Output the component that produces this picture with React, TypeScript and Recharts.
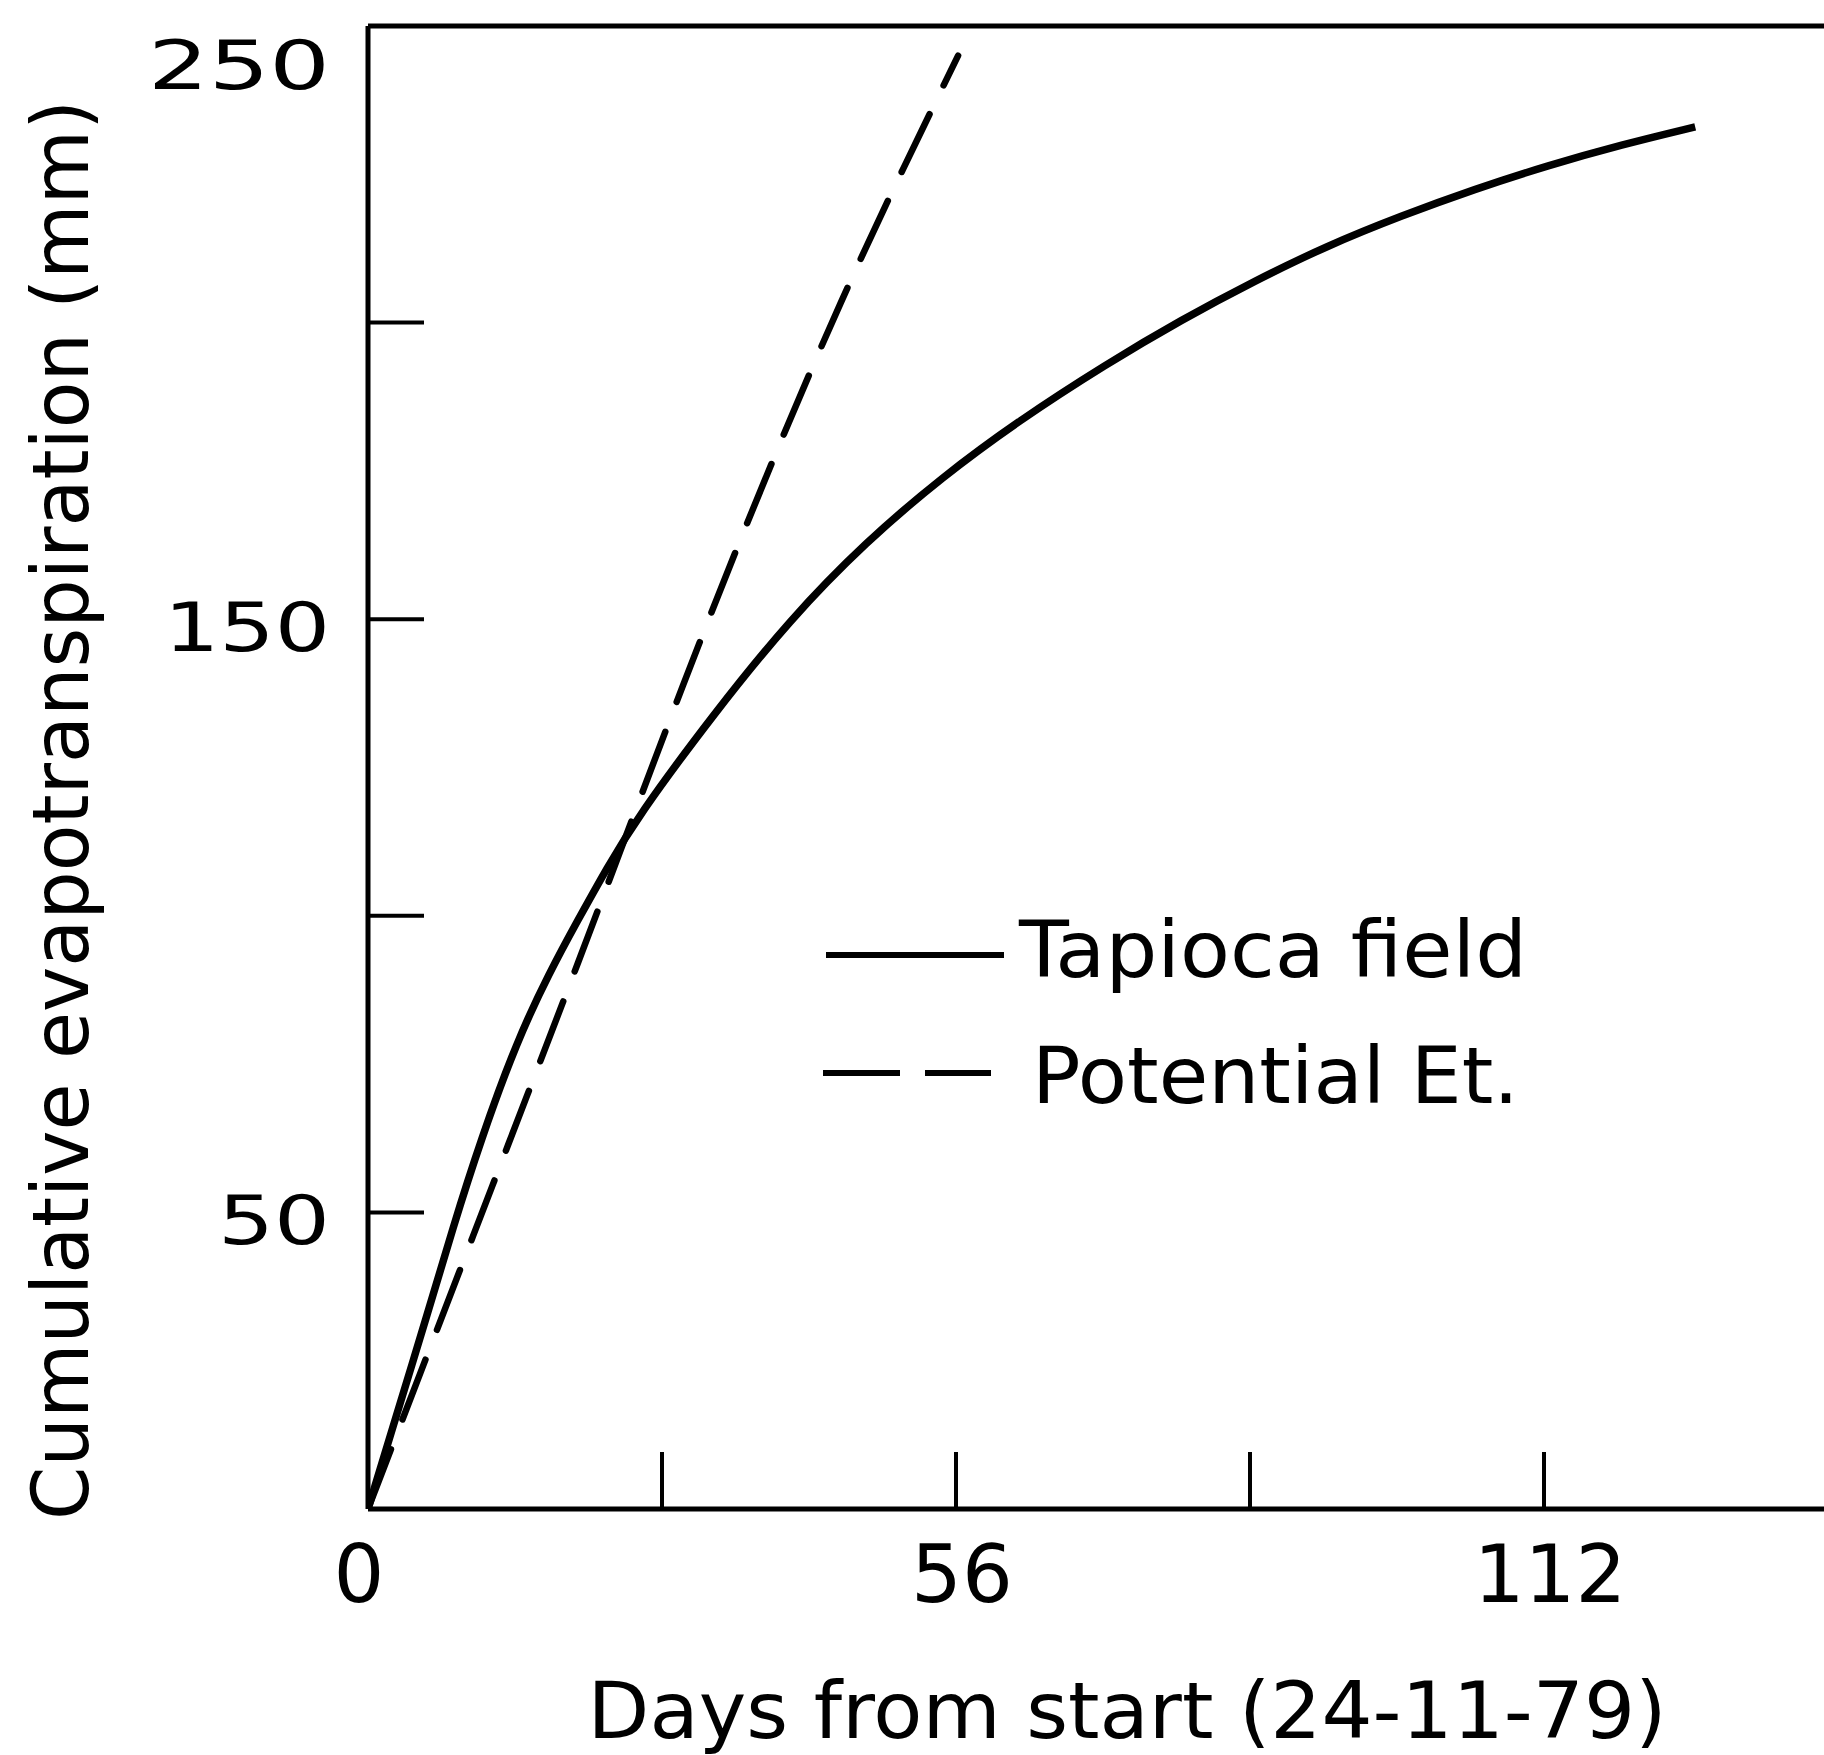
import {
  Label,
  Legend,
  Line,
  LineChart,
  ReferenceLine,
  XAxis,
  YAxis,
} from "recharts";

// cumulative ET, tapioca field (solid)
const tapiocaDays = [0, 2.4, 5.6, 8.1, 10.7, 14.2, 17.3, 19.9, 22.8, 25.6, 32.9, 40.2, 47.4, 54.7, 62, 70.3, 77.5, 84.4, 91.4, 98.4, 105.4, 112.4, 119.4, 126.4];
const tapiocaEt = [0, 14, 32.5, 47.5, 62, 79, 90.5, 99, 108.2, 116.5, 134, 150, 163, 174, 183.5, 193, 200.5, 207, 213, 218, 222.5, 226.5, 230, 233];

// potential ET (dashed)
const potentialDays = [0, 5, 10, 15, 20, 25, 30, 35, 40, 45, 50, 56.2];
const potentialEt = [0, 23, 46, 69, 92, 115.5, 139, 161.5, 183, 203.5, 222.5, 245];

const xTicks = [0, 28, 56, 84, 112, 140];
const xLabels = [0, 56, 112];
const yTicks = [0, 50, 100, 150, 200, 250];
const yLabels = [50, 150, 250];

const tapioca = tapiocaDays.map((d, i) => ({ day: d, et: tapiocaEt[i] }));
const potential = potentialDays.map((d, i) => ({ day: d, et: potentialEt[i] }));

const W = 1860;
const H = 1755;
const PLOT_LEFT = 368;
const PLOT_BOTTOM = 1509;
const FONT = "'DejaVu Sans', sans-serif";

const yLabelWidth: Record<number, number> = { 250: 182, 150: 166, 50: 112 };

function YTick({ y, payload }: any) {
  const v = payload.value;
  const showLine = v > 0 && v < 250;
  const showText = yLabels.includes(v);
  return (
    <g>
      {showLine && (
        <line x1={PLOT_LEFT} x2={PLOT_LEFT + 56} y1={y} y2={y} stroke="#000" strokeWidth={4} />
      )}
      {showText && (
        <text
          x={330}
          y={v === 250 ? y + 63 : y + 32}
          textAnchor="end"
          fontFamily={FONT}
          fontSize={68}
          textLength={yLabelWidth[v]}
          lengthAdjust="spacingAndGlyphs"
          fill="#000"
        >
          {v}
        </text>
      )}
    </g>
  );
}

function XTick({ x, payload }: any) {
  const v = payload.value;
  const showLine = v > 0 && v < 140;
  const showText = xLabels.includes(v);
  return (
    <g>
      {showLine && (
        <line x1={x} x2={x} y1={PLOT_BOTTOM} y2={PLOT_BOTTOM - 57} stroke="#000" strokeWidth={4} />
      )}
      {showText && (
        <text
          x={v === 0 ? x - 9 : x + 6}
          y={1602}
          textAnchor="middle"
          fontFamily={FONT}
          fontSize={80}
          fill="#000"
        >
          {v}
        </text>
      )}
    </g>
  );
}

function LegendBox() {
  return (
    <svg width={760} height={260} style={{ display: "block", overflow: "visible" }}>
      <line x1={26} x2={204} y1={75} y2={75} stroke="#000" strokeWidth={6} />
      <text x={219} y={97} fontFamily={FONT} fontSize={78} textLength={508} lengthAdjust="spacingAndGlyphs" fill="#000">
        Tapioca field
      </text>
      <line x1={23} x2={191} y1={193} y2={193} stroke="#000" strokeWidth={6} strokeDasharray="77 25" />
      <text x={232} y={223} fontFamily={FONT} fontSize={78} textLength={487} lengthAdjust="spacingAndGlyphs" fill="#000">
        Potential Et.
      </text>
    </svg>
  );
}

export default function App() {
  return (
    <div
      style={{
        position: "fixed",
        left: 0,
        top: 0,
        width: 1824,
        height: 1755,
        overflow: "hidden",
        background: "#fff",
      }}
    >
      <LineChart width={W} height={H} margin={{ top: 26, right: 22, bottom: 46, left: 68 }}>
        <XAxis
          type="number"
          dataKey="day"
          domain={[0, 140]}
          ticks={xTicks}
          interval={0}
          allowDataOverflow
          height={200}
          axisLine={{ stroke: "#000", strokeWidth: 5 }}
          tickLine={false}
          tick={<XTick />}
        >
          <Label
            content={() => (
              <text
                x={1127}
                y={1738}
                textAnchor="middle"
                fontFamily={FONT}
                fontSize={78}
                textLength={1079}
                lengthAdjust="spacingAndGlyphs"
                fill="#000"
              >
                Days from start (24-11-79)
              </text>
            )}
          />
        </XAxis>
        <YAxis
          type="number"
          domain={[0, 250]}
          ticks={yTicks}
          interval={0}
          allowDataOverflow
          width={300}
          axisLine={{ stroke: "#000", strokeWidth: 5 }}
          tickLine={false}
          tick={<YTick />}
        >
          <Label
            content={() => (
              <text
                x={88}
                y={810}
                transform="rotate(-90, 88, 810)"
                textAnchor="middle"
                fontFamily={FONT}
                fontSize={78}
                textLength={1420}
                lengthAdjust="spacingAndGlyphs"
                fill="#000"
              >
                Cumulative evapotranspiration (mm)
              </text>
            )}
          />
        </YAxis>
        <ReferenceLine y={250} stroke="#000" strokeWidth={5} />
        <ReferenceLine x={140} stroke="#000" strokeWidth={5} />
        <Line
          data={tapioca}
          dataKey="et"
          type="basis"
          stroke="#000"
          strokeWidth={7.5}
          dot={false}
          activeDot={false}
          isAnimationActive={false}
        />
        <Line
          data={potential}
          dataKey="et"
          type="basis"
          stroke="#000"
          strokeWidth={6.5}
          strokeDasharray="64 32"
          strokeLinecap="round"
          dot={false}
          activeDot={false}
          isAnimationActive={false}
        />
        <Legend
          layout="vertical"
          verticalAlign="middle"
          align="center"
          wrapperStyle={{ left: 800, top: 880, width: 760, height: 260 }}
          content={() => <LegendBox />}
        />
      </LineChart>
    </div>
  );
}
